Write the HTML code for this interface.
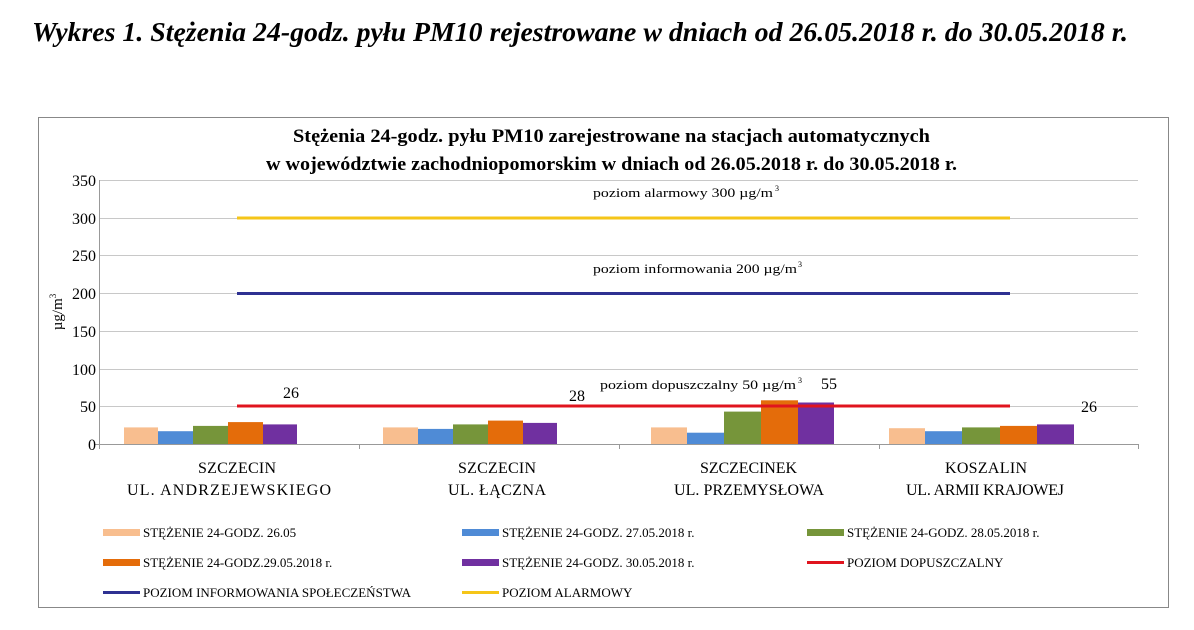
<!DOCTYPE html>
<html><head><meta charset="utf-8"><style>
body{margin:0;background:#fff;width:1194px;height:625px;overflow:hidden;font-family:"Liberation Serif",serif;}
</style></head><body>
<svg width="1194" height="625" xmlns="http://www.w3.org/2000/svg" font-family="Liberation Serif, serif">
<text x="32" y="41" font-size="27" font-weight="bold" font-style="italic" textLength="1096" lengthAdjust="spacingAndGlyphs">Wykres 1. Stężenia 24-godz. pyłu PM10 rejestrowane w dniach od 26.05.2018 r. do 30.05.2018 r.</text>
<rect x="38.5" y="117.5" width="1130" height="490" fill="#fff" stroke="#888"/>
<text x="293" y="142" font-size="19" font-weight="bold" textLength="637" lengthAdjust="spacingAndGlyphs">Stężenia 24-godz. pyłu PM10 zarejestrowane na stacjach automatycznych</text>
<text x="266" y="170" font-size="19" font-weight="bold" textLength="691" lengthAdjust="spacingAndGlyphs">w województwie zachodniopomorskim w dniach od 26.05.2018 r. do 30.05.2018 r.</text>
<g stroke="#c8c8c8" stroke-width="1">
<line x1="99" x2="1138" y1="180.5" y2="180.5"/><line x1="99" x2="1138" y1="218.5" y2="218.5"/>
<line x1="99" x2="1138" y1="255.5" y2="255.5"/><line x1="99" x2="1138" y1="293.5" y2="293.5"/>
<line x1="99" x2="1138" y1="331.5" y2="331.5"/><line x1="99" x2="1138" y1="369.5" y2="369.5"/>
<line x1="99" x2="1138" y1="406.5" y2="406.5"/><line x1="94" x2="1138" y1="444.5" y2="444.5" stroke="#999"/>
<line x1="99.5" x2="99.5" y1="180" y2="449" stroke="#999"/>
<line x1="359.5" x2="359.5" y1="444" y2="449" stroke="#999"/><line x1="619.5" x2="619.5" y1="444" y2="449" stroke="#999"/>
<line x1="879.5" x2="879.5" y1="444" y2="449" stroke="#999"/><line x1="1138.5" x2="1138.5" y1="444" y2="449" stroke="#999"/>
</g>
<g font-size="16" text-anchor="end">
<text x="96" y="186">350</text><text x="96" y="224">300</text><text x="96" y="261">250</text><text x="96" y="299">200</text>
<text x="96" y="337">150</text><text x="96" y="375">100</text><text x="96" y="412">50</text><text x="96" y="450">0</text>
</g>
<text transform="translate(62,312) rotate(-90)" font-size="15" text-anchor="middle">µg/m<tspan dy="-6" font-size="9">3</tspan></text>
<g>
<rect x="124" y="427.4" width="34" height="16.6" fill="#f8be8f"/>
<rect x="158" y="431.2" width="35" height="12.8" fill="#4f8bd6"/>
<rect x="193" y="425.9" width="35" height="18.1" fill="#76953a"/>
<rect x="228" y="422.1" width="35" height="21.9" fill="#e46c0a"/>
<rect x="263" y="424.4" width="34" height="19.6" fill="#7030a0"/>
<rect x="383" y="427.4" width="35" height="16.6" fill="#f8be8f"/>
<rect x="418" y="428.9" width="35" height="15.1" fill="#4f8bd6"/>
<rect x="453" y="424.4" width="35" height="19.6" fill="#76953a"/>
<rect x="488" y="420.6" width="35" height="23.4" fill="#e46c0a"/>
<rect x="523" y="422.9" width="34" height="21.1" fill="#7030a0"/>
<rect x="651" y="427.4" width="36" height="16.6" fill="#f8be8f"/>
<rect x="687" y="432.7" width="37" height="11.3" fill="#4f8bd6"/>
<rect x="724" y="411.6" width="37" height="32.4" fill="#76953a"/>
<rect x="761" y="400.3" width="37" height="43.7" fill="#e46c0a"/>
<rect x="798" y="402.5" width="36" height="41.5" fill="#7030a0"/>
<rect x="889" y="428.2" width="36" height="15.8" fill="#f8be8f"/>
<rect x="925" y="431.2" width="37" height="12.8" fill="#4f8bd6"/>
<rect x="962" y="427.4" width="38" height="16.6" fill="#76953a"/>
<rect x="1000" y="425.9" width="37" height="18.1" fill="#e46c0a"/>
<rect x="1037" y="424.4" width="37" height="19.6" fill="#7030a0"/>
</g>
<line x1="237" x2="1010" y1="218" y2="218" stroke="#f5c518" stroke-width="3"/>
<line x1="237" x2="1010" y1="293.5" y2="293.5" stroke="#2e3192" stroke-width="3"/>
<line x1="237" x2="1010" y1="406" y2="406" stroke="#e0141e" stroke-width="3"/>
<g font-size="13">
<text x="593" y="197" textLength="180" lengthAdjust="spacingAndGlyphs">poziom alarmowy 300 µg/m</text><text x="775" y="191" font-size="8">3</text>
<text x="593" y="273" textLength="204" lengthAdjust="spacingAndGlyphs">poziom informowania 200 µg/m</text><text x="798" y="267" font-size="8">3</text>
<text x="600" y="389" textLength="196" lengthAdjust="spacingAndGlyphs">poziom dopuszczalny 50 µg/m</text><text x="798" y="383" font-size="8">3</text>
</g>
<g font-size="16" text-anchor="middle">
<text x="291" y="398">26</text><text x="577" y="401">28</text><text x="829" y="389">55</text><text x="1089" y="412">26</text>
</g>
<g font-size="16">
<text x="198" y="473" textLength="78" lengthAdjust="spacing">SZCZECIN</text><text x="127" y="495" textLength="204" lengthAdjust="spacing">UL. ANDRZEJEWSKIEGO</text>
<text x="458" y="473" textLength="78" lengthAdjust="spacing">SZCZECIN</text><text x="448" y="495" textLength="98" lengthAdjust="spacing">UL. ŁĄCZNA</text>
<text x="700" y="473" textLength="97" lengthAdjust="spacing">SZCZECINEK</text><text x="674" y="495" textLength="150" lengthAdjust="spacing">UL. PRZEMYSŁOWA</text>
<text x="945" y="473" textLength="82" lengthAdjust="spacing">KOSZALIN</text><text x="906" y="495" textLength="158" lengthAdjust="spacing">UL. ARMII KRAJOWEJ</text>
</g>
<g font-size="13">
<rect x="103" y="529" width="37" height="7" fill="#f8be8f"/><text x="143" y="537">STĘŻENIE 24-GODZ. 26.05</text>
<rect x="462" y="529" width="37" height="7" fill="#4f8bd6"/><text x="502" y="537">STĘŻENIE 24-GODZ. 27.05.2018 r.</text>
<rect x="807" y="529" width="37" height="7" fill="#76953a"/><text x="847" y="537">STĘŻENIE 24-GODZ. 28.05.2018 r.</text>
<rect x="103" y="559" width="37" height="7" fill="#e46c0a"/><text x="143" y="567">STĘŻENIE 24-GODZ.29.05.2018 r.</text>
<rect x="462" y="559" width="37" height="7" fill="#7030a0"/><text x="502" y="567">STĘŻENIE 24-GODZ. 30.05.2018 r.</text>
<line x1="807" x2="844" y1="562.5" y2="562.5" stroke="#e0141e" stroke-width="3"/><text x="847" y="567">POZIOM DOPUSZCZALNY</text>
<line x1="103" x2="140" y1="592.5" y2="592.5" stroke="#2e3192" stroke-width="3"/><text x="143" y="597">POZIOM INFORMOWANIA SPOŁECZEŃSTWA</text>
<line x1="462" x2="499" y1="592.5" y2="592.5" stroke="#f5c518" stroke-width="3"/><text x="502" y="597">POZIOM ALARMOWY</text>
</g>
</svg>
</body></html>
